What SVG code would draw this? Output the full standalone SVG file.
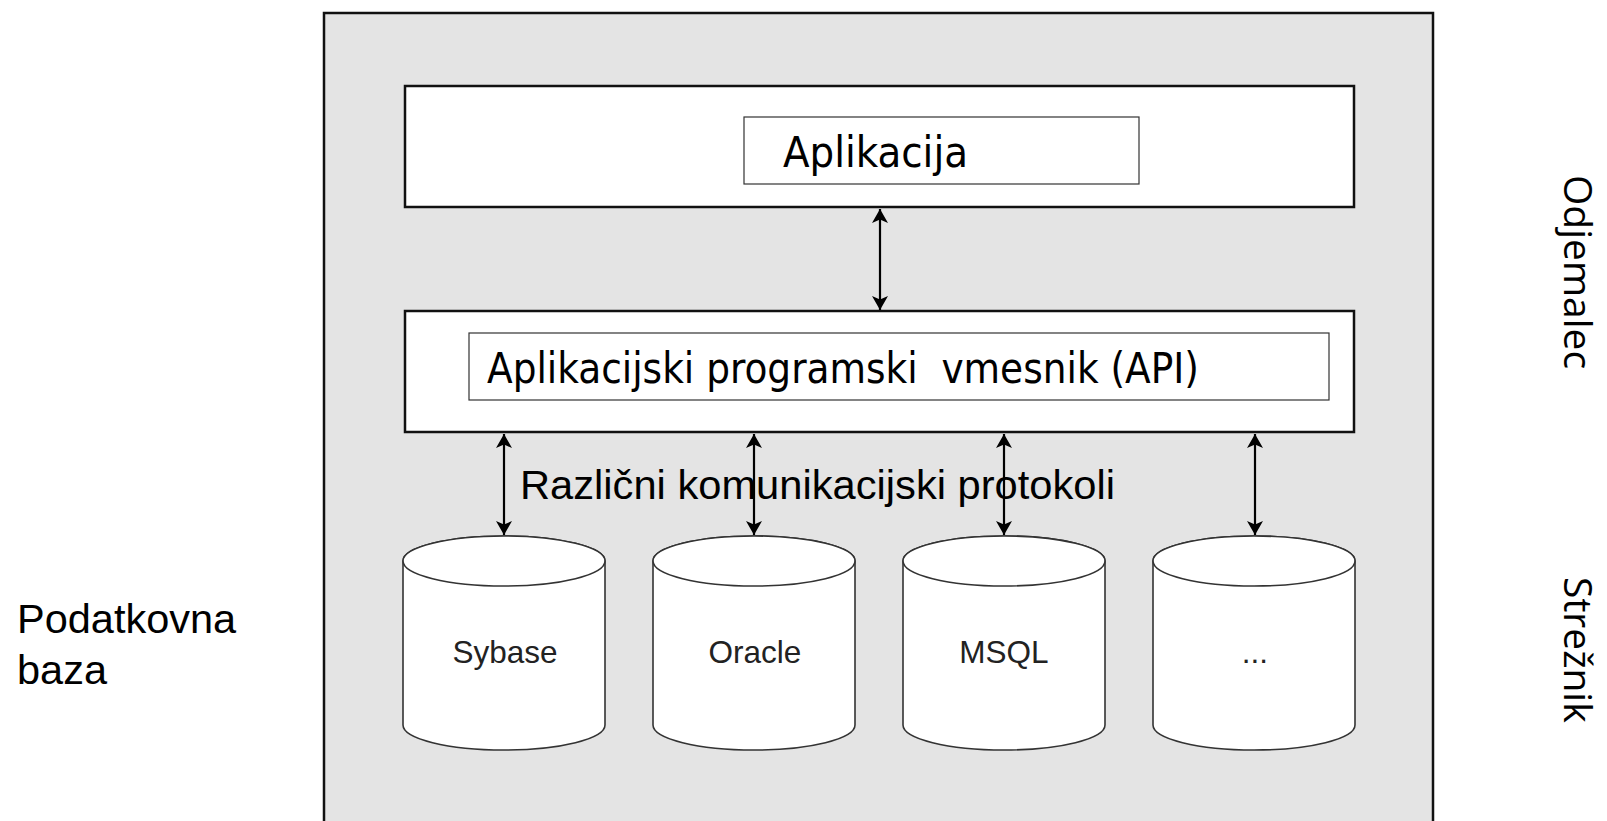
<svg xmlns="http://www.w3.org/2000/svg" xmlns:xlink="http://www.w3.org/1999/xlink" width="1607" height="821" viewBox="0 0 1607 821">
  <style>
    .box { fill: #ffffff; stroke: #111111; stroke-width: 2.5; }
    .inner { fill: #ffffff; stroke: #333333; stroke-width: 1.2; }
    .tah { font-family: "DejaVu Sans Condensed", "DejaVu Sans", sans-serif; font-size: 43px; fill: #000; }
    .arial { font-family: "Liberation Sans", Arial, sans-serif; fill: #000; }
    .side { font-family: "Open Sans", "Noto Sans", sans-serif; font-size: 39px; fill: #000; }
    .db { font-family: "Liberation Sans", Arial, sans-serif; font-size: 31.5px; fill: #222; text-anchor: middle; }
    .cyl { fill: #ffffff; stroke: #333333; stroke-width: 1.6; }
    .conn { stroke: #000; stroke-width: 2.2; fill: none; marker-start: url(#ah); marker-end: url(#ah); }
  </style>
  <defs>
    <marker id="ah" viewBox="0 0 14 16" refX="14" refY="8" markerWidth="14" markerHeight="16" markerUnits="userSpaceOnUse" orient="auto-start-reverse">
      <path d="M0,0 L14,8 L0,16 L3.5,8 Z" fill="#000"/>
    </marker>
    <g id="cylinder">
      <path class="cyl" d="M-101,561 L-101,725 A101,25 0 0 0 101,725 L101,561 A101,25 0 0 0 -101,561 Z"/>
      <ellipse class="cyl" cx="0" cy="561" rx="101" ry="25"/>
    </g>
  </defs>

  <g id="outer">
    <rect x="324" y="13" width="1109" height="830" fill="#e4e4e4" stroke="#111111" stroke-width="2.5"/>
  </g>

  <g id="aplikacija">
    <rect class="box" x="405" y="86" width="949" height="121"/>
    <rect class="inner" x="744" y="117" width="395" height="67"/>
    <text class="tah" x="783" y="167" textLength="185" lengthAdjust="spacingAndGlyphs">Aplikacija</text>
  </g>

  <g id="api">
    <rect class="box" x="405" y="311" width="949" height="121"/>
    <rect class="inner" x="469" y="333" width="860" height="67"/>
    <text class="tah" x="487" y="383" textLength="712" lengthAdjust="spacingAndGlyphs" xml:space="preserve">Aplikacijski programski  vmesnik (API)</text>
  </g>

  <g id="db-sybase">
    <use xlink:href="#cylinder" transform="translate(504,0)"/>
    <text class="db" x="505" y="663">Sybase</text>
  </g>
  <g id="db-oracle">
    <use xlink:href="#cylinder" transform="translate(754,0)"/>
    <text class="db" x="755" y="663">Oracle</text>
  </g>
  <g id="db-msql">
    <use xlink:href="#cylinder" transform="translate(1004,0)"/>
    <text class="db" x="1004" y="663">MSQL</text>
  </g>
  <g id="db-other">
    <use xlink:href="#cylinder" transform="translate(1254,0)"/>
    <text class="db" x="1255" y="663">...</text>
  </g>

  <g id="connectors">
    <line class="conn" x1="880" y1="209" x2="880" y2="310"/>
    <line class="conn" x1="504" y1="434" x2="504" y2="535"/>
    <line class="conn" x1="754" y1="434" x2="754" y2="535"/>
    <line class="conn" x1="1004" y1="434" x2="1004" y2="535"/>
    <line class="conn" x1="1255" y1="434" x2="1255" y2="535"/>
  </g>

  <g id="labels">
    <text class="arial" x="520" y="499" font-size="41.5" textLength="595" lengthAdjust="spacingAndGlyphs">Različni komunikacijski protokoli</text>
    <text class="arial" x="17" y="633" font-size="41.5">Podatkovna</text>
    <text class="arial" x="17" y="684" font-size="41.5">baza</text>
    <text class="side" transform="translate(1564,175) rotate(90)">Odjemalec</text>
    <text class="side" transform="translate(1564,577) rotate(90)">Strežnik</text>
  </g>
</svg>
